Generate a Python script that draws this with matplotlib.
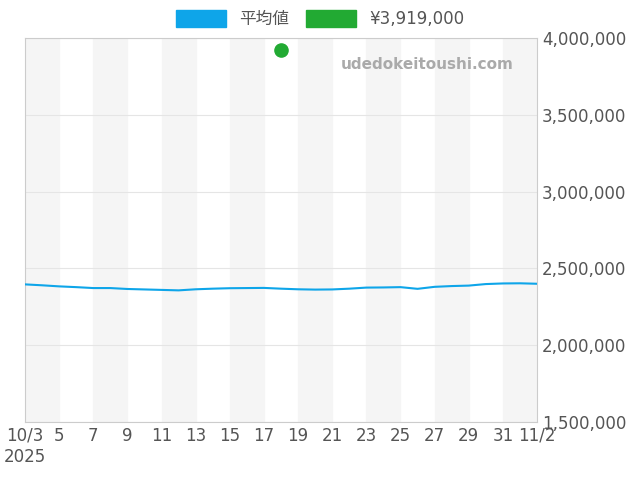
import matplotlib.pyplot as plt
import matplotlib.patches as mpatches
import numpy as np

plt.rcParams['font.family'] = ['DejaVu Sans', 'Noto Sans CJK JP']

# days offset from 10/3
days = list(range(31))
avg = [2396000, 2390000, 2383000, 2378000, 2372000, 2372000, 2366000, 2363000, 2360000, 2357000,
       2364000, 2368000, 2371000, 2372000, 2373000, 2368000, 2364000, 2362000, 2363000, 2368000,
       2375000, 2376000, 2378000, 2367000, 2380000, 2385000, 2388000, 2398000, 2400000, 2403000, 2395000]
avg = avg[:30] + [2400000]
avg[28] = 2402000
dot_day = 15
dot_val = 3919000
tick_labels = ['10/3\n2025', '5', '7', '9', '11', '13', '15', '17', '19', '21', '23', '25', '27', '29', '31', '11/2']

fig = plt.figure(figsize=(6.4, 4.8), dpi=100)
ax = fig.add_axes([25/640, 1 - 422/480, 512/640, 384/480])
for s in range(0, 30, 4):
    ax.axvspan(s, s + 2, color='#f5f5f5', zorder=0)
ax.plot(days, avg, color='#0ea5e9', lw=1.5, zorder=3)
ax.scatter([dot_day], [dot_val], color='#22aa33', s=90, zorder=4)
ax.set_xlim(0, 30)
ax.set_ylim(1500000, 4000000)
ax.set_xticks(range(0, 31, 2))
ax.set_xticklabels(tick_labels, fontsize=12, color='#555555')
ax.yaxis.tick_right()
ax.set_yticks(np.arange(1500000, 4000001, 500000))
ax.set_yticklabels([f'{v:,}' for v in range(1500000, 4000001, 500000)], fontsize=12, color='#555555')
ax.grid(axis='y', color='#e5e5e5', lw=0.8)
ax.tick_params(length=0)
for sp in ax.spines.values():
    sp.set_color('#cccccc')
ax.text(0.955, 0.93, 'udedokeitoushi.com', transform=ax.transAxes, ha='right', va='center',
        fontsize=11, fontweight='bold', color='#aaaaaa')
handles = [mpatches.Patch(color='#0ea5e9', label='平均値'), mpatches.Patch(color='#22aa33', label='¥3,919,000')]
fig.legend(handles=handles, loc='upper center', bbox_to_anchor=(0.5, 1.01), ncol=2, frameon=False,
           fontsize=12, labelcolor='#555555', handlelength=3, handleheight=1.2, columnspacing=1)
fig.savefig('out.png')
